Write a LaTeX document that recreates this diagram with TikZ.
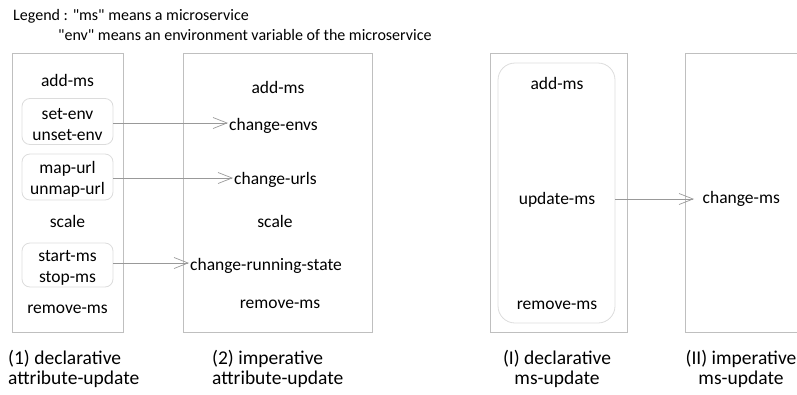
\documentclass[tikz,border=0pt]{standalone}
\usepackage{fontspec}
\setmainfont{Carlito}[Ligatures=TeXOff]
\usetikzlibrary{arrows.meta}
\definecolor{boxgray}{HTML}{BFBFBF}
\definecolor{innergray}{HTML}{DCDCDC}
\definecolor{arrgray}{HTML}{999999}
\newcommand{\topstrut}{\rule{0pt}{17pt}}
\tikzset{
  outerbox/.style={draw=boxgray, line width=0.8pt},
  innerbox/.style={draw=innergray, line width=0.8pt, rounded corners=8pt},
  item/.style={inner sep=1pt, font=\fontsize{17.5}{21}\selectfont, text height=0.72em, text depth=0.22em},
  pairbox/.style={draw=innergray, line width=0.8pt, rounded corners=8pt, minimum width=91pt, minimum height=46pt, inner sep=0pt, align=center, font=\fontsize{17.5}{21}\selectfont},
  conn/.style={draw=arrgray, line width=0.7pt, -{Straight Barb[length=14pt, width=11pt, line width=0.7pt]}},
  caption/.style={inner sep=0pt, font=\fontsize{19.5}{20}\selectfont},
  legendtxt/.style={inner sep=0pt, anchor=base west, font=\fontsize{16}{19}\selectfont}
}
\begin{document}
\begin{tikzpicture}[x=1pt, y=-1pt]
\useasboundingbox (0,0) rectangle (797,394);
\clip (0,0) rectangle (797,394);
% legend
\node[legendtxt] (leg1) at (13,20.5) {Legend : "ms" means a microservice};
\node[legendtxt] (leg2) at (58,40) {"env" means an environment variable of the microservice};
% outer boxes
\draw[outerbox] (12,53) rectangle (123,332);
\draw[outerbox] (183,53) rectangle (372,332);
\draw[outerbox] (490,53) rectangle (627,332);
\draw[outerbox] (800,53) -- (685,53) -- (685,332) -- (800,332);
% box 1
\node[item] (a1) at (67.5,83.5) {add-ms};
\node[pairbox] (r1) at (67.5,121.5) {\topstrut set-env\\unset-env};
\node[pairbox] (r2) at (67.5,177) {\topstrut map-url\\unmap-url};
\node[item] (s1) at (67.5,225) {scale};
\node[pairbox, minimum height=44pt] (r3) at (67.5,265) {\topstrut start-ms\\stop-ms};
\node[item] (rm1) at (67.5,310.5) {remove-ms};
% box 2
\node[item] (a2) at (278,90.5) {add-ms};
\node[item, anchor=west] (envs) at (228,127.5) {change-envs};
\node[item, anchor=west] (urls) at (233,182) {change-urls};
\node[item] (s2) at (275,225) {scale};
\node[item, anchor=west] (run) at (189,267.5) {change-running-state};
\node[item] (rm2) at (280,305.5) {remove-ms};
% box 3
\node[innerbox, minimum width=117pt, minimum height=260pt, rounded corners=17pt] (big) at (556.5,193) {};
\node[item] (a3) at (557,86.5) {add-ms};
\node[item] (upd) at (557,201.5) {update-ms};
\node[item] (rm3) at (557,306.5) {remove-ms};
% box 4
\node[item, anchor=west] (chg) at (701.5,200.5) {change-ms};
% connectors
\draw[conn] (r1.east |- 0,123) -- (envs.west |- 0,123);
\draw[conn] (r2.east |- 0,178) -- (urls.west |- 0,178);
\draw[conn] (r3.east |- 0,263) -- (run.west |- 0,263);
\draw[conn] (big.east |- 0,199) -- ([xshift=-7.5pt]chg.west |- 0,199);
% captions
\node[caption, anchor=base west, align=left] (c1) at (8,384) {(1) declarative\\attribute-update};
\node[caption, anchor=base west, align=left] (c2) at (212,384) {(2) imperative\\attribute-update};
\node[caption, anchor=base, align=center] (c3) at (557,384) {(I) declarative\\ms-update};
\node[caption, anchor=base, align=center] (c4) at (741,384) {(II) imperative\\ms-update};
\end{tikzpicture}
\end{document}
